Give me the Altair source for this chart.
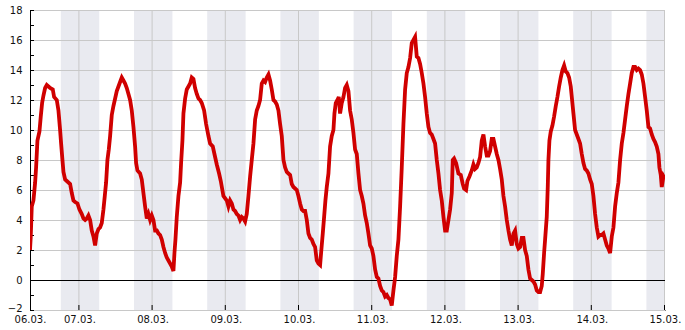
import altair as alt
import pandas as pd

# ---- data (hours after 06.03. 00:00, temperature in °C) ----
day_labels = ["06.03.", "07.03.", "08.03.", "09.03.", "10.03.", "11.03.",
              "12.03.", "13.03.", "14.03.", "15.03."]
tick_hours = [7.8, 24, 48, 72, 96, 120, 144, 168, 192, 216]
y_ticks = [-2, 0, 2, 4, 6, 8, 10, 12, 14, 16, 18]

night_start = [17.9, 41.9, 65.9, 89.9, 113.9, 137.9, 161.9, 185.9, 209.9]
night_end = [30.5, 54.5, 78.5, 102.5, 126.5, 150.5, 174.5, 198.5, 216.0]

hours1 = [7.8, 8.05, 8.38, 8.93, 9.48, 9.80, 10.24, 10.90, 11.33, 11.77,
          12.21, 12.75, 13.30, 13.85, 14.39, 15.27, 15.70, 16.58, 17.13, 17.67,
          18.0, 18.44, 18.77, 19.31, 19.86, 20.40, 20.95, 21.50, 22.04, 22.59,
          23.36, 24.01, 24.78, 25.32, 25.87, 26.42, 26.96, 27.51, 28.05, 28.60,
          29.15, 29.69, 30.24, 30.79, 31.33, 31.88, 32.32, 32.75, 33.19, 33.63,
          34.07, 34.61, 35.16, 35.71, 36.25, 36.80, 37.34, 37.89, 38.44, 38.98,
          39.53, 40.08, 40.62, 41.17, 41.72, 42.26, 42.59, 43.03, 43.90, 44.45,
          44.99, 45.54, 46.09, 46.63, 47.18, 47.73, 48.27, 48.82, 49.37, 49.91,
          50.46, 51.01, 51.55, 52.10, 52.64, 53.19, 53.74, 54.28, 54.83, 55.16,
          55.49, 55.92, 56.47, 57.02, 57.34, 57.78, 58.11, 58.66, 59.20, 59.75,
          60.30, 60.84, 61.39, 61.93, 62.48, 63.03, 63.57, 64.12, 64.89, 65.54,
          66.31, 66.85, 67.73, 68.49, 69.04, 69.80, 70.35]
temps1 = [2.0, 2.9, 4.9, 5.3, 6.5, 7.5, 9.3, 9.9, 10.9, 11.8,
          12.3, 12.8, 13.0, 12.9, 12.8, 12.7, 12.2, 12.0, 11.3, 10.0,
          9.1, 8.0, 7.2, 6.7, 6.6, 6.5, 6.4, 5.8, 5.3, 5.2,
          5.1, 4.7, 4.4, 4.1, 4.0, 4.1, 4.3, 4.0, 3.3, 2.9,
          2.3, 3.1, 3.4, 3.5, 3.8, 4.7, 5.6, 6.5, 8.0, 8.7,
          9.6, 11.0, 11.6, 12.1, 12.6, 12.9, 13.2, 13.5, 13.3, 13.1,
          12.8, 12.4, 12.0, 11.3, 10.2, 8.9, 7.8, 7.3, 7.1, 6.7,
          5.8, 4.9, 4.1, 4.4, 4.0, 4.3, 4.0, 3.3, 3.3, 3.1,
          3.0, 2.7, 2.2, 1.8, 1.5, 1.3, 1.1, 0.9, 0.6, 1.8,
          2.7, 4.2, 5.6, 6.5, 7.8, 9.3, 11.1, 12.1, 12.7, 12.9,
          13.1, 13.5, 13.4, 12.8, 12.4, 12.1, 12.0, 11.8, 11.3, 10.4,
          9.6, 9.1, 8.9, 8.2, 7.7, 7.1, 6.6]

hours2 = [71.22, 72.32, 72.86, 73.41, 73.96, 74.50, 75.05, 75.59, 76.14, 76.69,
          77.23, 77.78, 78.33, 78.87, 79.42, 79.97, 80.51, 81.06, 81.61, 82.15,
          82.70, 83.24, 83.79, 84.34, 84.88, 85.43, 85.98, 86.52, 87.07, 87.62,
          88.16, 88.71, 89.26, 89.80, 90.35, 90.90, 91.44, 91.99, 92.53, 93.08,
          93.63, 94.17, 94.72, 95.27, 95.81, 96.36, 96.91, 97.45, 98.00, 98.55,
          99.09, 99.64, 100.19, 100.73, 101.28, 101.82, 102.37, 102.92,
          103.24, 103.79, 104.23, 104.66,
          105.10, 105.65, 106.19, 106.74, 107.29,
          107.62, 108.05, 108.60, 109.04,
          109.47, 110.02, 110.57, 111.11, 111.66, 112.21, 112.75, 113.30, 113.85, 114.39,
          114.94, 115.49, 116.03, 116.58, 117.12, 117.67, 118.22, 118.76, 119.31, 119.86,
          120.40, 120.95, 121.50, 122.04, 122.59, 123.14, 123.68, 124.23, 124.78, 125.32,
          125.87, 126.41, 126.96, 127.51, 128.05, 128.60, 129.15, 129.69, 130.24, 130.79,
          131.33, 131.88, 132.43, 132.97, 133.52, 134.06, 134.61, 135.16, 135.70, 136.25,
          136.80, 137.34, 137.89, 138.44, 138.98, 139.53, 140.08, 140.62, 141.17, 141.72,
          142.26, 142.81, 143.36, 143.90, 144.45, 145.00, 145.54]
temps2 = [5.6,
          5.3, 4.9, 5.3, 5.1, 4.7, 4.6, 4.4, 4.3, 4.0, 4.2,
          4.1, 3.9, 4.4, 5.6, 6.9, 8.0, 9.1, 10.7, 11.3, 11.6,
          12.0, 13.1, 13.3, 13.2, 13.5, 13.7, 13.3, 12.7, 12.0, 11.9,
          11.7, 11.3, 10.4, 9.6, 8.0, 7.5, 7.2, 7.1, 7.0, 6.4,
          6.2, 6.1, 6.0, 5.6, 5.1, 4.7, 4.6, 4.6, 4.0, 3.1,
          2.8, 2.7, 2.4, 2.2, 1.3, 1.1, 1.0,
          1.8, 3.1, 4.2, 5.3,
          6.2, 7.1, 8.9, 9.6, 10.0,
          11.1, 11.8, 12.0, 12.2,
          11.1, 11.8, 12.2, 12.8, 13.0, 12.6, 11.3, 10.7, 9.8, 8.7,
          8.4, 7.1, 6.0, 5.6, 5.1, 4.3, 3.8, 3.1, 2.3, 2.1,
          1.6, 0.7, 0.2, 0.1, -0.4, -0.7, -0.8, -1.1, -1.0, -1.2,
          -1.3, -1.7, -0.7, 0.2, 1.6, 2.7, 4.9, 7.5, 10.4, 12.7,
          13.8, 14.2, 14.8, 15.8, 16.0, 16.2, 14.9, 14.8, 14.4, 13.8,
          13.1, 12.2, 11.1, 10.2, 9.8, 9.7, 9.4, 9.1, 8.0, 7.1,
          6.0, 5.3, 4.2, 3.3, 3.3, 4.0, 4.7]

hours3 = [146.09, 146.41, 146.85, 147.51, 148.27, 149.04, 149.69, 150.13, 150.79, 151.22,
          151.88, 152.64,
          153.19, 153.74, 154.28, 154.83, 155.38, 155.92, 156.47, 157.02, 157.56, 158.11,
          158.65, 159.20, 159.75, 160.29, 160.84, 161.39, 161.93, 162.48, 163.03, 163.57,
          164.12, 164.67, 165.21, 165.76, 166.31, 166.85, 167.40, 167.94, 168.49, 169.04,
          169.58, 170.13, 170.68, 171.22, 171.77, 172.32, 172.86, 173.41, 173.96, 174.50,
          175.05, 175.59,
          175.92, 176.36, 176.69, 177.23, 177.56, 177.78, 178.11, 178.55, 179.09, 179.64,
          180.19, 180.73, 181.28, 181.83, 182.37, 182.92, 183.46, 184.01, 184.56, 185.10,
          185.54, 185.98,
          186.52, 187.07, 187.62, 188.16, 188.71, 189.26, 189.80, 190.35, 190.90, 191.44,
          191.99, 192.53, 193.08, 193.63, 194.17, 194.72, 195.27, 195.81, 196.36, 196.91,
          197.45, 198.00, 198.55, 199.09, 199.64, 200.19, 200.73, 201.28, 201.83, 202.37,
          202.92, 203.47, 204.01, 204.56, 205.10, 205.65, 206.20, 206.74, 207.29, 207.84,
          208.38, 208.93, 209.48, 210.02, 210.57, 211.12, 211.66, 212.21, 212.75, 213.30,
          213.85, 214.17, 214.61, 214.94, 215.49, 216.0]
temps3 = [5.8, 8.0, 8.1, 7.8, 7.1, 7.0, 6.4, 6.1, 6.0, 6.6,
          6.9, 7.3,
          7.7, 7.4, 7.5, 7.8, 8.2, 9.3, 9.7, 8.9, 8.3, 8.3,
          8.6, 9.4, 9.4, 8.9, 8.4, 8.0, 7.4, 6.7, 5.6, 4.9,
          4.0, 3.3, 2.7, 2.3, 3.1, 3.3, 2.4, 2.1, 2.2, 2.8,
          2.8, 2.0, 1.6, 0.7, 0.1, 0.0, -0.1, -0.3, -0.7, -0.8,
          -0.8, -0.4,
          0.4, 1.8, 2.7, 4.2, 6.2, 8.0, 9.3, 9.9, 10.3, 10.9,
          11.6, 12.2, 12.9, 13.5, 14.0, 14.3, 13.9, 13.8, 13.5, 12.9,
          12.0, 11.1,
          10.0, 9.7, 9.4, 9.1, 8.4, 7.8, 7.4, 7.3, 7.1, 6.7,
          6.4, 5.6, 4.4, 3.5, 2.9, 3.0, 3.0, 3.1, 2.7, 2.3,
          2.1, 1.8, 2.9, 3.5, 4.9, 5.8, 6.5, 8.0, 9.1, 9.8,
          10.7, 11.6, 12.4, 13.1, 13.8, 14.2, 14.2, 14.0, 14.1, 14.0,
          13.7, 13.1, 12.2, 11.3, 10.2, 10.1, 9.7, 9.4, 9.2, 8.9,
          8.4, 7.5, 7.0, 6.2, 6.9, 6.7]

# ---- tables ----
series = pd.DataFrame({"h": hours1 + hours2 + hours3,
                       "t": temps1 + temps2 + temps3})
nights = pd.DataFrame({"s": night_start, "e": night_end})
hgrid = pd.DataFrame({"y": [v for v in y_ticks if v != 0]})
vgrid = pd.DataFrame({"d": tick_hours[1:]})
zero = pd.DataFrame({"z": [0]})
minor = pd.DataFrame({"m": list(range(y_ticks[0], y_ticks[-1] + 1))})

FONT = "DejaVu Sans"
xscale = alt.Scale(domain=[tick_hours[0], tick_hours[-1]], nice=False, zero=False)
yscale = alt.Scale(domain=[y_ticks[0], y_ticks[-1]], nice=False, zero=False)

label_expr = "[" + ",".join(f"'{d}'" for d in day_labels) + "][floor(datum.value / 24)]"

xaxis = alt.Axis(values=tick_hours, labelExpr=label_expr, grid=False, ticks=False,
                 domainColor="black", domainWidth=1, labelFont=FONT, labelFontSize=10,
                 labelColor="#111111", labelPadding=4, labelFlush=False,
                 labelOverlap=False, title=None)
yaxis = alt.Axis(values=y_ticks, grid=False, ticks=False, domainColor="black",
                 domainWidth=1, labelFont=FONT, labelFontSize=10, labelColor="#111111",
                 labelPadding=8, labelFlush=False, labelOverlap=False, title=None,
                 labelOffset={"condition": {"test": "datum.value == -2", "value": -2},
                              "value": 0})

bands = alt.Chart(nights).mark_rect(color="#e9eaf0").encode(
    x=alt.X("s:Q", scale=xscale, axis=xaxis), x2="e:Q")

hrules = alt.Chart(hgrid).mark_rule(color="#c8c8c8", strokeWidth=1, yOffset=0.5).encode(
    y=alt.Y("y:Q", scale=yscale, axis=yaxis))

vrules = alt.Chart(vgrid).mark_rule(color="#c8c8c8", strokeWidth=1, xOffset=-0.5).encode(
    x=alt.X("d:Q", scale=xscale, axis=xaxis))

zline = alt.Chart(zero).mark_rule(color="black", strokeWidth=1, yOffset=0.5).encode(
    y=alt.Y("z:Q", scale=yscale, axis=yaxis))

yminor = alt.Chart(minor).mark_rule(color="black", strokeWidth=1, yOffset=0.5).encode(
    x=alt.value(0), x2=alt.value(4), y=alt.Y("m:Q", scale=yscale, axis=yaxis))

xminor = alt.Chart(vgrid).mark_rule(color="black", strokeWidth=1, xOffset=-0.5).encode(
    x=alt.X("d:Q", scale=xscale, axis=xaxis), y=alt.value(295), y2=alt.value(300))

line = alt.Chart(series).mark_line(color="#d00000", strokeWidth=3.8, clip=True).encode(
    x=alt.X("h:Q", scale=xscale, axis=xaxis),
    y=alt.Y("t:Q", scale=yscale, axis=yaxis))

chart = alt.layer(bands, hrules, vrules, zline, yminor, xminor, line).properties(
    width=635, height=300,
    padding={"left": 30, "top": 10, "right": 20, "bottom": 20},
    autosize=alt.AutoSizeParams(type="none"),
    background="white",
).configure_view(stroke=None)

chart.save("out.html", embed_options={"renderer": "svg", "actions": False})
